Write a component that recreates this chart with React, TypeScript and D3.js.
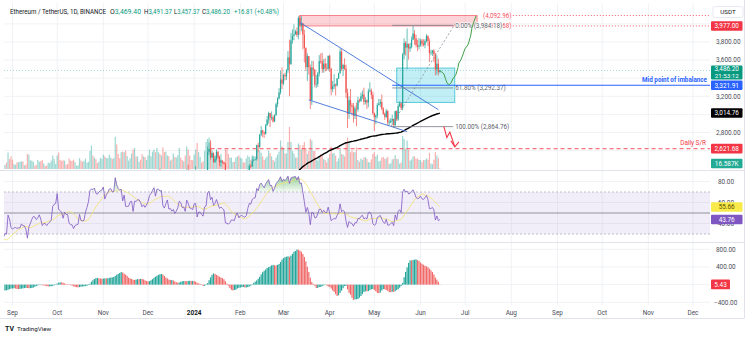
import React from 'react';
import * as d3 from 'd3';

// ---------- DATA (daily ETH/USDT, Binance, from 2023-07-20) ----------
const START = new Date(2023, 6, 20);

const closes = [
  1892,1891,1889,1891,1848,1858,1870,1859,1874,1880,1862,1857,
  1855,1838,1834,1828,1834,1826,1826,1855,1855,1850,1848,1850,1843,1842,1826,1806,1686,1661,1678,1682,1667,1634,1683,1662,1651,1645,1657,1652,1729,1706,1645,
  1628,1635,1636,1630,1632,1632,1646,1635,1635,1617,1550,1593,1608,1626,1640,1637,1623,1631,1643,1622,1586,1594,1593,1582,1589,1594,1600,1656,1667,1671,
  1733,1662,1656,1647,1613,1647,1633,1632,1579,1567,1566,1539,1552,1555,1557,1600,1565,1563,1565,1603,1628,1664,1766,1787,1784,1802,1779,1775,1795,1809,1815,
  1846,1795,1832,1857,1894,1900,1886,1890,2121,2078,2053,2045,2055,1980,2057,1961,1961,1963,2013,2022,1933,2063,2062,2081,2084,2063,2027,2048,2028,2051,
  2088,2165,2193,2242,2293,2232,2358,2358,2344,2353,2226,2202,2260,2314,2220,2227,2197,2218,2176,2201,2239,2326,2313,2266,2272,2230,2378,2346,2298,2292,2281,
  2352,2356,2209,2268,2268,2241,2221,2331,2344,2585,2618,2524,2576,2472,2511,2587,2528,2468,2490,2470,2453,2241,2236,2217,2235,2267,2267,2258,2317,2344,2283,
  2304,2309,2297,2290,2303,2372,2431,2425,2486,2501,2506,2659,2641,2778,2823,2803,2786,2880,2944,3015,2966,2970,2922,2992,3112,3176,3243,3385,3340,
  3434,3421,3488,3629,3553,3818,3868,3884,3917,3879,4066,3981,4004,3881,3734,3523,3644,3519,3158,3516,3493,3330,3335,3452,3589,3587,3500,3561,3509,3505,3647,
  3503,3278,3311,3330,3318,3398,3455,3695,3504,3545,3505,3240,3007,3157,3100,3083,2986,3066,3055,3155,3147,3201,3219,3139,3156,3131,3255,3264,3216,3014,
  2969,2988,3103,3118,3137,3064,3006,2973,3036,2911,2912,2930,2949,2882,3036,2945,3093,3123,3072,3662,3790,3738,3780,3728,3748,3826,3892,3841,3767,3748,3762,
  3815,3780,3767,3810,3865,3812,3679,3683,3705,3667,3497,3560,3469.4,3486.2,
];

const highs = [
  1905,1900,1895,1895,1893,1865,1885,1885,1880,1885,1885,1875,
  1870,1870,1865,1880,1840,1840,1838,1865,1880,1865,1860,1858,1855,1860,1845,1828,1810,1730,1690,1694,1685,1672,1700,1690,1670,1655,1660,1662,1745,1740,1710,
  1662,1642,1650,1650,1640,1640,1652,1650,1640,1638,1620,1610,1615,1636,1650,1645,1640,1667,1650,1648,1625,1600,1600,1598,1592,1600,1610,1660,1680,1685,
  1745,1747,1690,1665,1660,1650,1645,1640,1635,1590,1578,1570,1560,1565,1565,1630,1605,1580,1575,1612,1640,1690,1800,1860,1815,1816,1810,1788,1805,1830,1820,
  1868,1870,1835,1865,1905,1915,1910,1905,2135,2135,2080,2060,2120,2060,2070,2090,1990,1970,2020,2065,2030,2085,2090,2135,2100,2090,2070,2065,2065,2055,
  2105,2170,2210,2275,2310,2308,2375,2390,2400,2385,2360,2245,2280,2325,2320,2260,2245,2225,2245,2265,2250,2340,2330,2320,2300,2275,2395,2445,2390,2320,2315,
  2370,2430,2385,2290,2275,2270,2270,2340,2375,2645,2690,2718,2600,2575,2545,2613,2595,2540,2500,2490,2480,2465,2270,2270,2245,2275,2275,2285,2325,2390,2350,
  2325,2330,2325,2310,2335,2390,2450,2450,2525,2540,2535,2665,2688,2780,2870,2830,2810,2895,2985,3030,3010,3033,2990,3000,3130,3190,3290,3480,3520,
  3450,3460,3500,3700,3825,3900,3940,3995,3935,3960,4085,4092.96,4085,4010,3935,3740,3675,3640,3550,3590,3590,3500,3435,3470,3655,3675,3680,3610,3620,3565,3650,
  3660,3515,3370,3445,3340,3400,3460,3730,3720,3560,3620,3550,3285,3200,3280,3125,3125,3095,3130,3195,3175,3240,3265,3295,3190,3165,3285,3355,3285,3250,
  3020,3000,3125,3170,3170,3220,3080,3020,3060,3050,2945,2960,2995,2955,3040,3045,3120,3145,3130,3680,3840,3810,3950,3765,3790,3860,3977,3930,3880,3825,3845,
  3835,3835,3830,3830,3888,3875,3840,3715,3710,3720,3680,3655,3615,3491.37,
];

const lows = [
  1880,1880,1880,1845,1840,1845,1850,1855,1855,1870,1842,1845,
  1815,1827,1825,1820,1820,1820,1805,1820,1845,1840,1843,1844,1838,1838,1818,1800,1550,1605,1655,1670,1660,1622,1630,1650,1640,1640,1642,1640,1645,1700,1630,
  1615,1625,1625,1620,1610,1615,1625,1620,1630,1600,1530,1545,1590,1600,1620,1630,1618,1617,1628,1610,1575,1580,1588,1578,1576,1583,1590,1600,1635,1660,
  1670,1655,1640,1625,1605,1607,1625,1630,1550,1560,1555,1521,1535,1545,1548,1555,1560,1550,1547,1560,1610,1628,1660,1760,1760,1775,1770,1770,1775,1780,1790,
  1795,1790,1775,1820,1850,1875,1865,1875,1880,2040,2035,2025,2040,1975,1980,1935,1930,1925,1950,1995,1930,1935,2040,2060,2075,2050,2000,2015,2015,2020,
  2040,2075,2155,2185,2205,2220,2225,2340,2320,2325,2140,2140,2145,2245,2210,2200,2190,2115,2160,2150,2180,2230,2285,2260,2255,2210,2220,2335,2280,2270,2265,
  2265,2335,2100,2205,2215,2230,2215,2165,2290,2340,2555,2500,2520,2470,2465,2490,2510,2430,2420,2460,2450,2230,2165,2195,2170,2215,2255,2250,2230,2305,2270,
  2260,2285,2280,2270,2270,2290,2355,2405,2420,2475,2485,2490,2590,2630,2760,2750,2740,2775,2875,2900,2860,2935,2910,2915,2985,3080,3165,3220,3280,
  3325,3375,3380,3460,3200,3555,3780,3820,3880,3855,3830,3880,3920,3720,3575,3480,3370,3440,3060,3105,3425,3300,3290,3305,3420,3560,3460,3460,3475,3480,3490,
  3470,3210,3245,3280,3210,3310,3390,3450,3480,3425,3490,3180,2850,2950,3020,2990,2910,2950,2870,3030,3130,3140,3170,3105,3110,3060,3080,3245,3170,2995,
  2815,2890,2955,3100,3080,3045,2995,2940,2960,2880,2880,2905,2880,2864.76,2870,2925,2930,3080,3050,3045,3610,3650,3500,3605,3690,3728,3820,3770,3740,3700,3720,
  3750,3750,3750,3730,3795,3755,3580,3655,3645,3580,3430,3440,3430,3457.37,
];

// thousand ETH
const volumes = [
  250,200,130,160,350,220,260,200,230,140,200,280,
  250,230,200,190,100,110,250,330,260,220,150,100,110,230,250,330,950,600,220,180,250,320,400,290,250,130,140,220,550,330,420,
  310,160,140,220,230,240,260,250,120,150,500,480,290,280,240,110,140,300,240,260,300,180,100,120,210,200,280,450,330,170,
  450,550,300,270,290,280,150,160,350,280,270,310,230,110,120,360,280,240,270,340,210,240,600,780,450,380,330,200,250,370,340,
  480,420,370,360,480,380,340,360,1070,820,500,360,560,580,560,620,430,280,360,520,650,700,420,420,240,310,500,420,400,300,
  450,650,420,580,650,560,700,560,500,450,720,560,580,450,430,280,320,520,400,380,460,700,380,300,260,450,750,650,450,300,290,
  480,650,870,560,400,210,260,600,900,1000,1050,900,480,340,440,550,400,450,500,200,220,650,650,500,380,380,230,240,380,420,450,
  380,350,220,220,350,450,400,310,460,240,260,620,650,620,540,420,300,360,420,620,520,420,300,250,380,480,580,950,750,
  700,520,520,900,1400,900,600,520,380,380,850,800,650,800,900,700,500,600,1000,950,600,600,300,280,430,500,430,330,300,220,360,
  500,750,520,530,450,250,350,650,500,480,420,900,1050,900,560,620,560,560,720,300,240,350,300,380,400,340,230,220,320,500,
  560,420,480,250,280,380,400,340,350,400,170,190,320,340,460,340,330,180,220,1100,1000,680,950,640,280,320,420,420,340,350,300,
  300,230,300,300,360,310,540,180,160,310,560,450,360,16.587,
];

const EMA200_SEED = 1740; // EMA(200) value on 2023-07-19
const EMA200_LAST = 3014.76;
const RSI_LAST = 43.76;
const RSI_MA_LAST = 55.66;
const AO_LAST = 5.43;
const VOLUME_LAST = '16.587K';
const COUNTDOWN = '21:53:12';
const header = { symbol: 'Ethereum / TetherUS, 1D, BINANCE', o: 3469.4, h: 3491.37, l: 3457.37, c: 3486.2, chg: 16.81, pct: 0.48 };

const priceTicks = [2600, 2800, 3000, 3200, 3400, 3600, 3800, 4000];
const rsiTicks = [40, 60, 80];
const aoTicks = [-400, 0, 400, 800];

// drawings (date, price)
const supplyZone = { start: '2024-03-12', end: '2024-07-09', top: 4092.96, bottom: 3977 };
const rays = [
  { price: 4092.96, text: '(4,092.96)' },
  { price: 3977.68, text: '(3,977.68)' },
];
const RAY_LABEL_DATE = '2024-07-13';
const RAY_START_DATE = '2024-08-02';
const wedgeUpper = [['2024-03-12', 4017], ['2024-06-13', 3052]] as [string, number][];
const wedgeLower = [['2024-03-18', 3160], ['2024-05-23', 2810]] as [string, number][];
const fib = { start: '2024-05-13', end: '2024-06-23' };
const fibLevels = [
  { pct: '0.00%', price: 3984.18 },
  { pct: '61.80%', price: 3292.37 },
  { pct: '100.00%', price: 2864.76 },
];
const fibTrend = [['2024-05-12', 2864.76], ['2024-06-25', 4020]] as [string, number][];
const imbalance = { start: '2024-05-16', end: '2024-06-24', top: 3512, bottom: 3132 };
const midLine = { start: '2024-05-13', price: 3321.91, label: 'Mid point of imbalance' };
const dailySR = { start: '2024-01-12', price: 2621.68, label: 'Daily S/R' };
// projections: [days after last candle, price]
const bullPath = [[0, 3486], [2.7, 3448], [4, 3382], [5.1, 3338], [6.4, 3330], [7.6, 3350], [8.7, 3393], [10.7, 3437], [12.1, 3514], [12.8, 3569], [14.1, 3602], [15.4, 3657], [16.8, 3723], [18.8, 3767], [19.5, 3800], [20.8, 3877], [21.5, 3954], [22.8, 4020], [24.2, 4086]];
const bearPath = [[2.7, 2865], [4.7, 2744], [6.7, 2805], [10.1, 2641]];

// ---------- DERIVED ----------
const N = closes.length;
const dates = closes.map((_, i) => d3.timeDay.offset(START, i));
const opens = closes.map((c, i) => (i === 0 ? c : closes[i - 1]));
const parse = d3.timeParse('%Y-%m-%d');

function sma(arr: (number | null)[], p: number): (number | null)[] {
  return arr.map((_, i) => {
    if (i < p - 1) return null;
    let s = 0;
    for (let k = i - p + 1; k <= i; k++) {
      const v = arr[k];
      if (v == null) return null;
      s += v;
    }
    return s / p;
  });
}
function rsiCalc(c: number[], p: number): (number | null)[] {
  const out: (number | null)[] = c.map(() => null);
  let ag = 0, al = 0;
  for (let i = 1; i < c.length; i++) {
    const ch = c[i] - c[i - 1];
    const g = Math.max(ch, 0), l = Math.max(-ch, 0);
    if (i <= p) {
      ag += g / p; al += l / p;
      if (i === p) out[i] = 100 - 100 / (1 + ag / al);
    } else {
      ag = (ag * (p - 1) + g) / p; al = (al * (p - 1) + l) / p;
      out[i] = al === 0 ? 100 : 100 - 100 / (1 + ag / al);
    }
  }
  return out;
}
const rsi = rsiCalc(closes, 14);
const rsiMa = sma(rsi, 14);
const med = highs.map((h, i) => (h + lows[i]) / 2);
const s5 = sma(med, 5), s34 = sma(med, 34);
const ao = med.map((_, i) => (s5[i] != null && s34[i] != null ? (s5[i] as number) - (s34[i] as number) : null));
const ema200: number[] = [];
{
  let e = EMA200_SEED;
  closes.forEach((c) => { e += (2 / 201) * (c - e); ema200.push(e); });
}

// ---------- SCALES ----------
const x = d3.scaleTime().domain([new Date(2023, 8, 1), new Date(2024, 11, 1)]).range([12.5, 693]);
const yP = d3.scaleLinear().domain([2800, 3800]).range([132.5, 42]);
const yR = d3.scaleLinear().domain([30, 70]).range([234, 192]);
const yA = d3.scaleLinear().domain([-400, 800]).range([302.3, 249.3]);
const vH = d3.scaleLinear().domain([0, 1000]).range([0, 30]);

const L = 4, R = 710;
const MAIN_T = 3, MAIN_B = 170, RSI_T = 171, RSI_B = 242, AO_T = 243, AO_B = 305;
const X = (i: number) => x(dates[i]);
const XD = (s: string) => x(parse(s) as Date);
const XO = (days: number) => x(d3.timeHour.offset(dates[N - 1], Math.round(days * 24)));
const idx = d3.range(N).filter((i) => X(i) > 1 && X(i) < 713);
const fmt = d3.format(',.2f');

const UP = '#26a69a', DOWN = '#ef5350';
const FONT = 'Roboto, "Liberation Sans", sans-serif';

// price values that carry a tag on the axis (tick labels under them are hidden)
const mainTagPrices = [3977, header.c, 3321.91, EMA200_LAST, 2621.68];

function Tag({ y, text, fill, color = '#fff', h = 9.6 }: { y: number; text: string; fill: string; color?: string; h?: number }) {
  return (
    <g>
      <rect x={711} y={y - h / 2} width={31.5} height={h} fill={fill} rx={1} />
      <text x={726.7} y={y} dy="0.35em" textAnchor="middle" fontSize={6.4} fill={color}>{text}</text>
    </g>
  );
}

export default function App() {
  const rsiLine = d3.line<number>().defined((i) => rsi[i] != null).x(X).y((i) => yR(rsi[i] as number));
  const rsiMaLine = d3.line<number>().defined((i) => rsiMa[i] != null).x(X).y((i) => yR(rsiMa[i] as number));
  const obArea = d3.area<number>().defined((i) => rsi[i] != null).x(X).y0(yR(70)).y1((i) => yR(Math.max(rsi[i] as number, 70)));
  const emaLine = d3.line<number>().x(X).y((i) => yP(ema200[i]));
  const bullLine = d3.line<number[]>().x((d) => XO(d[0])).y((d) => yP(d[1]));
  const segLine = d3.line<[string, number]>().x((d) => XD(d[0])).y((d) => yP(d[1]));

  const months = d3.timeMonth.range(new Date(2023, 8, 1), new Date(2024, 11, 2));
  const tip = bearPath[bearPath.length - 1];
  const tipX = XO(tip[0]), tipY = yP(tip[1]);
  const shownPriceTicks = priceTicks.filter((p) => mainTagPrices.every((t) => Math.abs(yP(p) - yP(t)) > 8));

  return (
    <svg width={750} height={338} style={{ position: 'absolute', left: 0, top: 0, background: '#fff' }} fontFamily={FONT}>
      <defs>
        <clipPath id="cMain"><rect x={L} y={MAIN_T} width={R - L} height={MAIN_B - MAIN_T} /></clipPath>
        <clipPath id="cRsi"><rect x={L} y={RSI_T} width={R - L} height={RSI_B - RSI_T} /></clipPath>
        <clipPath id="cAo"><rect x={L} y={AO_T} width={R - L} height={AO_B - AO_T} /></clipPath>
        <linearGradient id="obGrad" gradientUnits="userSpaceOnUse" x1={0} x2={0} y1={yR(88)} y2={yR(70)}>
          <stop offset="0" stopColor="#4caf50" stopOpacity={0.7} />
          <stop offset="1" stopColor="#4caf50" stopOpacity={0.05} />
        </linearGradient>
      </defs>
      <rect x={0} y={0} width={750} height={338} fill="#fff" />

      {/* grid */}
      <g stroke="#f0f2f5" strokeWidth={1}>
        {months.map((m, k) => <line key={'vg' + k} x1={x(m)} x2={x(m)} y1={MAIN_T} y2={AO_B} />)}
        {priceTicks.map((p) => <line key={'pg' + p} x1={L} x2={R} y1={yP(p)} y2={yP(p)} />)}
        {rsiTicks.map((p) => <line key={'rg' + p} x1={L} x2={R} y1={yR(p)} y2={yR(p)} />)}
        {aoTicks.map((p) => <line key={'ag' + p} x1={L} x2={R} y1={yA(p)} y2={yA(p)} />)}
      </g>

      {/* pane separators and frame */}
      <g stroke="#e0e3eb" strokeWidth={1}>
        <line x1={0} x2={744} y1={170.5} y2={170.5} />
        <line x1={0} x2={744} y1={242.5} y2={242.5} />
        <line x1={0} x2={744} y1={318.5} y2={318.5} />
        <line x1={744.5} x2={744.5} y1={0} y2={318.5} />
      </g>

      {/* MAIN PANE */}
      <g clipPath="url(#cMain)">
        {idx.map((i) => {
          const h = vH(volumes[i]);
          return <rect key={'v' + i} x={X(i) - 0.6} width={1.2} y={MAIN_B - 1 - h} height={h} fill={closes[i] >= opens[i] ? 'rgba(38,166,154,0.45)' : 'rgba(239,83,80,0.45)'} />;
        })}

        <rect x={XD(supplyZone.start)} width={XD(supplyZone.end) - XD(supplyZone.start)} y={yP(supplyZone.top)} height={yP(supplyZone.bottom) - yP(supplyZone.top)} fill="rgba(242,54,69,0.22)" stroke="rgba(242,54,69,0.7)" strokeWidth={0.8} />
        <rect x={XD(imbalance.start)} width={XD(imbalance.end) - XD(imbalance.start)} y={yP(imbalance.top)} height={yP(imbalance.bottom) - yP(imbalance.top)} fill="rgba(0,188,212,0.24)" stroke="rgba(0,172,193,0.6)" strokeWidth={1} />

        {/* rays */}
        {rays.map((r) => (
          <g key={r.text}>
            <line x1={XD(RAY_START_DATE)} x2={R} y1={yP(r.price)} y2={yP(r.price)} stroke="#f23645" strokeWidth={0.8} strokeDasharray="1,2" />
            <text x={XD(RAY_LABEL_DATE)} y={yP(r.price)} dy="0.35em" fontSize={6.3} fill="#f7525f">{r.text}</text>
          </g>
        ))}

        {/* daily S/R */}
        <line x1={XD(dailySR.start)} x2={R} y1={yP(dailySR.price)} y2={yP(dailySR.price)} stroke="#f7525f" strokeWidth={1.3} strokeDasharray="4,3" opacity={0.8} />
        <text x={706} y={yP(dailySR.price) - 3.5} textAnchor="end" fontSize={6.4} fill="#f23645">{dailySR.label}</text>

        {/* current price line */}
        <line x1={L} x2={R} y1={yP(header.c)} y2={yP(header.c)} stroke="#26a69a" strokeWidth={0.7} strokeDasharray="1,2" opacity={0.6} />

        {/* candles */}
        {idx.map((i) => {
          const o = opens[i], c = closes[i];
          const col = c >= o ? UP : DOWN;
          const hi = Math.max(highs[i], o, c), lo = Math.min(lows[i], o, c);
          const yt = yP(Math.max(o, c)), yb = yP(Math.min(o, c));
          return (
            <g key={'c' + i}>
              <line x1={X(i)} x2={X(i)} y1={yP(hi)} y2={yP(lo)} stroke={col} strokeWidth={0.7} />
              <rect x={X(i) - 0.6} width={1.2} y={yt} height={Math.max(0.7, yb - yt)} fill={col} />
            </g>
          );
        })}

        {/* EMA 200 */}
        <path d={emaLine(idx) || ''} fill="none" stroke="#000" strokeWidth={1.4} />

        {/* wedge */}
        <path d={segLine(wedgeUpper) || ''} stroke="#3f6fd8" strokeWidth={0.9} fill="none" />
        <path d={segLine(wedgeLower) || ''} stroke="#3f6fd8" strokeWidth={0.9} fill="none" />

        {/* fib */}
        <path d={segLine(fibTrend) || ''} stroke="#8a8d96" strokeWidth={0.8} strokeDasharray="2,2" fill="none" />
        {fibLevels.map((f) => (
          <g key={f.pct}>
            <line x1={XD(fib.start)} x2={XD(fib.end)} y1={yP(f.price)} y2={yP(f.price)} stroke="#787b86" strokeWidth={0.8} />
            <text x={XD(fib.end) + 2} y={yP(f.price)} dy="0.35em" fontSize={6.3} fill="#5d606b" stroke="#fff" strokeWidth={1.5} paintOrder="stroke">{`${f.pct} (${fmt(f.price)})`}</text>
          </g>
        ))}

        {/* mid point line */}
        <line x1={XD(midLine.start)} x2={R} y1={yP(midLine.price)} y2={yP(midLine.price)} stroke="#2962ff" strokeWidth={1.1} />
        <text x={707} y={yP(midLine.price) - 3.3} textAnchor="end" fontSize={6.3} fontWeight="bold" fill="#2962ff">{midLine.label}</text>

        {/* projections */}
        <path d={bullLine(bullPath) || ''} fill="none" stroke="#43a047" strokeWidth={1} />
        <path d={bullLine(bearPath) || ''} fill="none" stroke="#f23645" strokeWidth={1.1} />
        <path d={`M${tipX - 4},${tipY - 6}L${tipX},${tipY}L${tipX + 4},${tipY - 5}`} fill="none" stroke="#f23645" strokeWidth={1.1} />
      </g>

      {/* RSI PANE */}
      <g clipPath="url(#cRsi)">
        <rect x={L} width={R - L} y={yR(70)} height={yR(30) - yR(70)} fill="rgba(126,87,194,0.1)" />
        <line x1={L} x2={R} y1={yR(70)} y2={yR(70)} stroke="#9598a1" strokeWidth={0.6} strokeDasharray="2,2" />
        <line x1={L} x2={R} y1={yR(30)} y2={yR(30)} stroke="#9598a1" strokeWidth={0.6} strokeDasharray="2,2" />
        <line x1={L} x2={R} y1={yR(50)} y2={yR(50)} stroke="#787b86" strokeWidth={0.8} />
        <path d={obArea(idx) || ''} fill="url(#obGrad)" />
        <path d={rsiMaLine(idx) || ''} fill="none" stroke="#f3e27a" strokeWidth={0.9} />
        <path d={rsiLine(idx) || ''} fill="none" stroke="#7e57c2" strokeWidth={0.8} />
      </g>

      {/* AO PANE */}
      <g clipPath="url(#cAo)">
        {idx.map((i) => {
          const v = ao[i];
          if (v == null) return null;
          const prev = ao[i - 1];
          const col = prev == null || v >= prev ? '#26a69a' : '#f06a6a';
          const y0 = yA(0), y1 = yA(v);
          return <rect key={'a' + i} x={X(i) - 0.6} width={1.2} y={Math.min(y0, y1)} height={Math.max(0.4, Math.abs(y1 - y0))} fill={col} />;
        })}
      </g>

      {/* right axis tick labels */}
      <g fontSize={6.4} fill="#4a4d57">
        {shownPriceTicks.map((p) => <text key={'pt' + p} x={716} y={yP(p)} dy="0.35em">{fmt(p)}</text>)}
        {rsiTicks.map((p) => <text key={'rt' + p} x={718} y={yR(p)} dy="0.35em">{fmt(p)}</text>)}
        {aoTicks.filter((p) => p !== 0).map((p) => <text key={'at' + p} x={p < 0 ? 714 : 716} y={yA(p)} dy="0.35em">{fmt(p)}</text>)}
      </g>

      {/* USDT */}
      <rect x={713} y={6.5} width={30} height={11} fill="#fff" stroke="#e0e3eb" strokeWidth={0.8} rx={1.5} />
      <text x={728} y={12} dy="0.35em" textAnchor="middle" fontSize={6.2} fill="#131722">USDT</text>

      {/* value tags */}
      <Tag y={yP(3977)} text={fmt(3977)} fill="#f23645" />
      <g>
        <rect x={711} y={yP(header.c) - 5} width={31.5} height={14} fill="#089981" rx={1} />
        <text x={726.7} y={yP(header.c) - 1.3} dy="0.35em" textAnchor="middle" fontSize={6.4} fill="#fff">{fmt(header.c)}</text>
        <text x={726.7} y={yP(header.c) + 5} dy="0.35em" textAnchor="middle" fontSize={6.2} fill="#fff">{COUNTDOWN}</text>
      </g>
      <Tag y={yP(midLine.price)} text={fmt(midLine.price)} fill="#2962ff" />
      <Tag y={yP(EMA200_LAST)} text={fmt(EMA200_LAST)} fill="#000" />
      <Tag y={yP(dailySR.price)} text={fmt(dailySR.price)} fill="#f23645" />
      <Tag y={163.5} text={VOLUME_LAST} fill="#22ab94" />
      <Tag y={yR(RSI_MA_LAST)} text={fmt(RSI_MA_LAST)} fill="#f7ea4a" color="#5d4e00" />
      <Tag y={yR(RSI_LAST)} text={fmt(RSI_LAST)} fill="#7e57c2" />
      <g>
        <rect x={711} y={yA(AO_LAST) - 4.8} width={19} height={9.6} fill="#f23645" rx={1} />
        <text x={720.5} y={yA(AO_LAST)} dy="0.35em" textAnchor="middle" fontSize={6.4} fill="#fff">{fmt(AO_LAST)}</text>
      </g>

      {/* time axis */}
      <g fontSize={6.4} fill="#4a4d57" textAnchor="middle">
        {months.map((m, k) => (
          <text key={'ml' + k} x={x(m)} y={313} dy="0.35em" fontWeight={m.getMonth() === 0 ? 'bold' : 'normal'} fill={m.getMonth() === 0 ? '#131722' : '#4a4d57'}>
            {m.getMonth() === 0 ? String(m.getFullYear()) : d3.timeFormat('%b')(m)}
          </text>
        ))}
      </g>

      {/* header legend */}
      <g fontSize={6.6} fill="#131722">
        <text x={10} y={11.5} dy="0.35em" textLength={96} lengthAdjust="spacingAndGlyphs">{header.symbol}</text>
        <text x={110} y={11.5} dy="0.35em" textLength={31} lengthAdjust="spacingAndGlyphs">O<tspan fill="#089981">{fmt(header.o)}</tspan></text>
        <text x={144} y={11.5} dy="0.35em" textLength={28} lengthAdjust="spacingAndGlyphs">H<tspan fill="#089981">{fmt(header.h)}</tspan></text>
        <text x={174} y={11.5} dy="0.35em" textLength={25.5} lengthAdjust="spacingAndGlyphs">L<tspan fill="#089981">{fmt(header.l)}</tspan></text>
        <text x={202} y={11.5} dy="0.35em" textLength={28} lengthAdjust="spacingAndGlyphs">C<tspan fill="#089981">{fmt(header.c)}</tspan></text>
        <text x={234} y={11.5} dy="0.35em" fill="#089981" textLength={45} lengthAdjust="spacingAndGlyphs">{`+${header.chg} (+${header.pct.toFixed(2)}%)`}</text>
      </g>

      {/* TradingView logo */}
      <g>
        <text x={5} y={329} dy="0.35em" fontSize={7} fontWeight="bold" fill="#131722">TV</text>
        <text x={17} y={329} dy="0.35em" fontSize={6.2} fill="#131722">TradingView</text>
      </g>
    </svg>
  );
}
